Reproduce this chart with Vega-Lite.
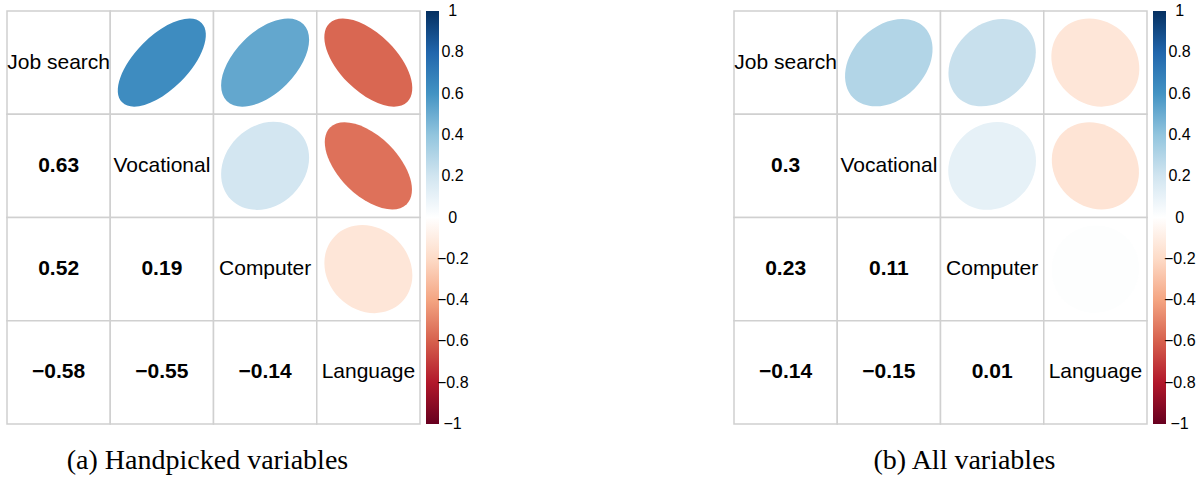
{
  "$schema": "https://vega.github.io/schema/vega-lite/v6.json",
  "padding": {"left": 6, "top": 10, "right": 0, "bottom": 0},
  "background": "white",
  "config": {"view": {"stroke": null}, "font": "Liberation Sans"},
  "datasets": {
    "a": [
      {"row": "Job search", "col": "Job search", "r": 1, "part": "diag"},
      {"row": "Job search", "col": "Vocational", "r": 0.63, "part": "upper"},
      {"row": "Job search", "col": "Computer", "r": 0.52, "part": "upper"},
      {"row": "Job search", "col": "Language", "r": -0.58, "part": "upper"},
      {"row": "Vocational", "col": "Job search", "r": 0.63, "part": "lower"},
      {"row": "Vocational", "col": "Vocational", "r": 1, "part": "diag"},
      {"row": "Vocational", "col": "Computer", "r": 0.19, "part": "upper"},
      {"row": "Vocational", "col": "Language", "r": -0.55, "part": "upper"},
      {"row": "Computer", "col": "Job search", "r": 0.52, "part": "lower"},
      {"row": "Computer", "col": "Vocational", "r": 0.19, "part": "lower"},
      {"row": "Computer", "col": "Computer", "r": 1, "part": "diag"},
      {"row": "Computer", "col": "Language", "r": -0.14, "part": "upper"},
      {"row": "Language", "col": "Job search", "r": -0.58, "part": "lower"},
      {"row": "Language", "col": "Vocational", "r": -0.55, "part": "lower"},
      {"row": "Language", "col": "Computer", "r": -0.14, "part": "lower"},
      {"row": "Language", "col": "Language", "r": 1, "part": "diag"}
    ],
    "b": [
      {"row": "Job search", "col": "Job search", "r": 1, "part": "diag"},
      {"row": "Job search", "col": "Vocational", "r": 0.3, "part": "upper"},
      {"row": "Job search", "col": "Computer", "r": 0.23, "part": "upper"},
      {"row": "Job search", "col": "Language", "r": -0.14, "part": "upper"},
      {"row": "Vocational", "col": "Job search", "r": 0.3, "part": "lower"},
      {"row": "Vocational", "col": "Vocational", "r": 1, "part": "diag"},
      {"row": "Vocational", "col": "Computer", "r": 0.11, "part": "upper"},
      {"row": "Vocational", "col": "Language", "r": -0.15, "part": "upper"},
      {"row": "Computer", "col": "Job search", "r": 0.23, "part": "lower"},
      {"row": "Computer", "col": "Vocational", "r": 0.11, "part": "lower"},
      {"row": "Computer", "col": "Computer", "r": 1, "part": "diag"},
      {"row": "Computer", "col": "Language", "r": 0.01, "part": "upper"},
      {"row": "Language", "col": "Job search", "r": -0.14, "part": "lower"},
      {"row": "Language", "col": "Vocational", "r": -0.15, "part": "lower"},
      {"row": "Language", "col": "Computer", "r": 0.01, "part": "lower"},
      {"row": "Language", "col": "Language", "r": 1, "part": "diag"}
    ]
  },
  "bounds": "flush",
  "spacing": 314,
  "resolve": {"scale": {"color": "independent"}, "legend": {"color": "independent"}},
  "hconcat": [
    {
      "data": {"name": "a"},
      "width": 413,
      "height": 413,
      "title": {"text": "(a) Handpicked variables", "orient": "bottom", "anchor": "middle", "font": "Liberation Serif", "fontSize": 28, "fontWeight": "normal", "color": "black", "offset": 37, "baseline": "alphabetic", "dx": -6},
      "encoding": {
        "x": {"field": "col", "type": "nominal", "sort": ["Job search", "Vocational", "Computer", "Language"], "axis": null, "scale": {"paddingInner": 0, "paddingOuter": 0}},
        "y": {"field": "row", "type": "nominal", "sort": ["Job search", "Vocational", "Computer", "Language"], "axis": null, "scale": {"paddingInner": 0, "paddingOuter": 0}}
      },
      "layer": [
        {"mark": {"type": "rect", "fill": "white", "stroke": "#D0D0D0", "strokeWidth": 1.5}},
        {
          "transform": [{"filter": "datum.part === 'upper'"}],
          "mark": {"type": "point", "filled": true, "size": 7744, "opacity": 1, "strokeWidth": 0},
          "encoding": {
            "color": {"field": "r", "type": "quantitative",
              "scale": {"domain": [-1.001, -0.8, -0.6, -0.4, -0.2, 0, 0.2, 0.4, 0.6, 0.8, 1.001], "range": ["#67001F", "#B2182B", "#D6604D", "#F4A582", "#FDDBC7", "#FFFFFF", "#D1E5F0", "#92C5DE", "#4393C3", "#2166AC", "#053061"], "interpolate": "rgb"},
              "legend": {"title": null, "orient": "right", "offset": 6, "padding": 0, "direction": "vertical", "gradientLength": 413, "gradientThickness": 13, "gradientStrokeWidth": 0, "values": [-1, -0.8, -0.6, -0.4, -0.2, 0, 0.2, 0.4, 0.6, 0.8, 1], "format": ".1~f",
                "labelExpr": "(datum.value == 0 || datum.value == 1 ? '\u200b\u2002\u2009' : datum.value == -1 ? '\u200b\u2009\u2009' : datum.value > 0 ? '\u200b\u00a0' : '') + datum.label",
                "labelFont": "Liberation Sans", "labelFontSize": 16, "labelColor": "black", "labelOffset": -2, "labelOverlap": false}},
            "shape": {"field": "r", "type": "nominal", "legend": null,
              "scale": {"domain": [0.63, 0.52, -0.58, 0.19, -0.55, -0.14, 0.3, 0.23, 0.11, -0.15, 0.01],
                "range": [
                  "M-0.9028 0.9028A1.2767 0.6083 -45 0 1 0.9028 -0.9028A1.2767 0.6083 -45 0 1 -0.9028 0.9028Z",
                  "M-0.8718 0.8718A1.2329 0.6928 -45 0 1 0.8718 -0.8718A1.2329 0.6928 -45 0 1 -0.8718 0.8718Z",
                  "M-0.4583 0.4583A0.6481 1.257 -45 0 1 0.4583 -0.4583A0.6481 1.257 -45 0 1 -0.4583 0.4583Z",
                  "M-0.7714 0.7714A1.0909 0.9 -45 0 1 0.7714 -0.7714A1.0909 0.9 -45 0 1 -0.7714 0.7714Z",
                  "M-0.4743 0.4743A0.6708 1.245 -45 0 1 0.4743 -0.4743A0.6708 1.245 -45 0 1 -0.4743 0.4743Z",
                  "M-0.6558 0.6558A0.9274 1.0677 -45 0 1 0.6558 -0.6558A0.9274 1.0677 -45 0 1 -0.6558 0.6558Z",
                  "M-0.8062 0.8062A1.1402 0.8367 -45 0 1 0.8062 -0.8062A1.1402 0.8367 -45 0 1 -0.8062 0.8062Z",
                  "M-0.7842 0.7842A1.1091 0.8775 -45 0 1 0.7842 -0.7842A1.1091 0.8775 -45 0 1 -0.7842 0.7842Z",
                  "M-0.745 0.745A1.0536 0.9434 -45 0 1 0.745 -0.745A1.0536 0.9434 -45 0 1 -0.745 0.745Z",
                  "M-0.6519 0.6519A0.922 1.0724 -45 0 1 0.6519 -0.6519A0.922 1.0724 -45 0 1 -0.6519 0.6519Z",
                  "M-0.7106 0.7106A1.005 0.995 -45 0 1 0.7106 -0.7106A1.005 0.995 -45 0 1 -0.7106 0.7106Z"
                ]}}
          }
        },
        {
          "transform": [{"filter": "datum.part === 'lower'"}],
          "mark": {"type": "text", "fontWeight": "bold", "fontSize": 21, "color": "black", "baseline": "middle", "font": "Liberation Sans"},
          "encoding": {"text": {"field": "r", "type": "quantitative", "format": ".2~f"}}
        },
        {
          "transform": [{"filter": "datum.part === 'diag'"}],
          "mark": {"type": "text", "fontSize": 21, "color": "black", "baseline": "middle", "font": "Liberation Sans"},
          "encoding": {"text": {"field": "col", "type": "nominal"}}
        }
      ]
    },
    {
      "data": {"name": "b"},
      "width": 413,
      "height": 413,
      "title": {"text": "(b) All variables", "orient": "bottom", "anchor": "middle", "font": "Liberation Serif", "fontSize": 28, "fontWeight": "normal", "color": "black", "offset": 37, "baseline": "alphabetic", "dx": 24},
      "encoding": {
        "x": {"field": "col", "type": "nominal", "sort": ["Job search", "Vocational", "Computer", "Language"], "axis": null, "scale": {"paddingInner": 0, "paddingOuter": 0}},
        "y": {"field": "row", "type": "nominal", "sort": ["Job search", "Vocational", "Computer", "Language"], "axis": null, "scale": {"paddingInner": 0, "paddingOuter": 0}}
      },
      "layer": [
        {"mark": {"type": "rect", "fill": "white", "stroke": "#D0D0D0", "strokeWidth": 1.5}},
        {
          "transform": [{"filter": "datum.part === 'upper'"}],
          "mark": {"type": "point", "filled": true, "size": 7744, "opacity": 1, "strokeWidth": 0},
          "encoding": {
            "color": {"field": "r", "type": "quantitative",
              "scale": {"domain": [-1.001, -0.8, -0.6, -0.4, -0.2, 0, 0.2, 0.4, 0.6, 0.8, 1.001], "range": ["#67001F", "#B2182B", "#D6604D", "#F4A582", "#FDDBC7", "#FFFFFF", "#D1E5F0", "#92C5DE", "#4393C3", "#2166AC", "#053061"], "interpolate": "rgb"},
              "legend": {"title": null, "orient": "right", "offset": 6, "padding": 0, "direction": "vertical", "gradientLength": 413, "gradientThickness": 13, "gradientStrokeWidth": 0, "values": [-1, -0.8, -0.6, -0.4, -0.2, 0, 0.2, 0.4, 0.6, 0.8, 1], "format": ".1~f",
                "labelExpr": "(datum.value == 0 || datum.value == 1 ? '\u200b\u2002\u2009' : datum.value == -1 ? '\u200b\u2009\u2009' : datum.value > 0 ? '\u200b\u00a0' : '') + datum.label",
                "labelFont": "Liberation Sans", "labelFontSize": 16, "labelColor": "black", "labelOffset": -2, "labelOverlap": false}},
            "shape": {"field": "r", "type": "nominal", "legend": null,
              "scale": {"domain": [0.63, 0.52, -0.58, 0.19, -0.55, -0.14, 0.3, 0.23, 0.11, -0.15, 0.01],
                "range": [
                  "M-0.9028 0.9028A1.2767 0.6083 -45 0 1 0.9028 -0.9028A1.2767 0.6083 -45 0 1 -0.9028 0.9028Z",
                  "M-0.8718 0.8718A1.2329 0.6928 -45 0 1 0.8718 -0.8718A1.2329 0.6928 -45 0 1 -0.8718 0.8718Z",
                  "M-0.4583 0.4583A0.6481 1.257 -45 0 1 0.4583 -0.4583A0.6481 1.257 -45 0 1 -0.4583 0.4583Z",
                  "M-0.7714 0.7714A1.0909 0.9 -45 0 1 0.7714 -0.7714A1.0909 0.9 -45 0 1 -0.7714 0.7714Z",
                  "M-0.4743 0.4743A0.6708 1.245 -45 0 1 0.4743 -0.4743A0.6708 1.245 -45 0 1 -0.4743 0.4743Z",
                  "M-0.6558 0.6558A0.9274 1.0677 -45 0 1 0.6558 -0.6558A0.9274 1.0677 -45 0 1 -0.6558 0.6558Z",
                  "M-0.8062 0.8062A1.1402 0.8367 -45 0 1 0.8062 -0.8062A1.1402 0.8367 -45 0 1 -0.8062 0.8062Z",
                  "M-0.7842 0.7842A1.1091 0.8775 -45 0 1 0.7842 -0.7842A1.1091 0.8775 -45 0 1 -0.7842 0.7842Z",
                  "M-0.745 0.745A1.0536 0.9434 -45 0 1 0.745 -0.745A1.0536 0.9434 -45 0 1 -0.745 0.745Z",
                  "M-0.6519 0.6519A0.922 1.0724 -45 0 1 0.6519 -0.6519A0.922 1.0724 -45 0 1 -0.6519 0.6519Z",
                  "M-0.7106 0.7106A1.005 0.995 -45 0 1 0.7106 -0.7106A1.005 0.995 -45 0 1 -0.7106 0.7106Z"
                ]}}
          }
        },
        {
          "transform": [{"filter": "datum.part === 'lower'"}],
          "mark": {"type": "text", "fontWeight": "bold", "fontSize": 21, "color": "black", "baseline": "middle", "font": "Liberation Sans"},
          "encoding": {"text": {"field": "r", "type": "quantitative", "format": ".2~f"}}
        },
        {
          "transform": [{"filter": "datum.part === 'diag'"}],
          "mark": {"type": "text", "fontSize": 21, "color": "black", "baseline": "middle", "font": "Liberation Sans"},
          "encoding": {"text": {"field": "col", "type": "nominal"}}
        }
      ]
    }
  ]
}
